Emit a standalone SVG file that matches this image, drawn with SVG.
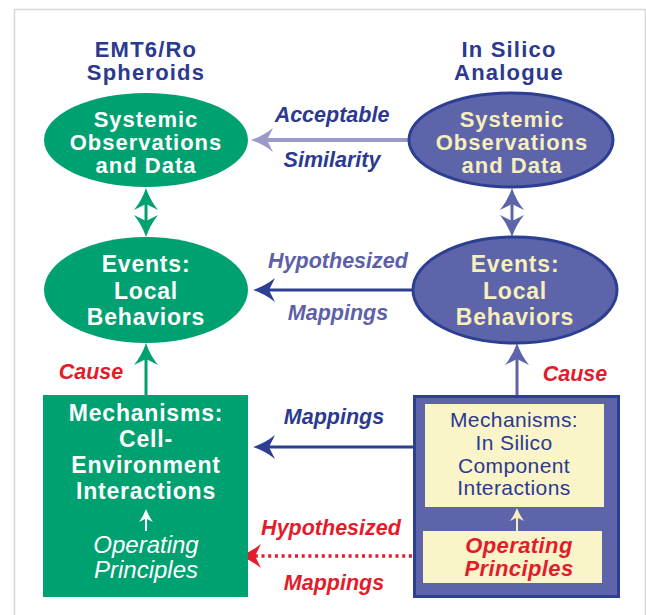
<svg xmlns="http://www.w3.org/2000/svg" width="646" height="615" viewBox="0 0 646 615">
<style>
text{font-family:"Liberation Sans",Arial,sans-serif;text-anchor:middle}
.b{font-weight:bold;font-size:22px;letter-spacing:1px}
.b2{font-weight:bold;font-size:23px;letter-spacing:0.8px}
.title{font-weight:bold;font-size:22px;fill:#2b3990;letter-spacing:1.2px}
.w{fill:#ffffff}
.c{fill:#f7efbc}
.lab{font-weight:bold;font-style:italic;font-size:21.5px}
.blue{fill:#2b3990}
.pur{fill:#5d60a8}
.red{fill:#e31b2b}
.green{fill:#00a170}
.pnode{fill:#5e64a9;stroke:#2c3f93;stroke-width:3}
.cream{fill:#faf4c9}
.inner{font-size:21px;letter-spacing:0.4px}
.op{font-weight:bold;font-style:italic;font-size:22px;letter-spacing:0.4px}
</style>
<defs>
<marker id="ahB" markerUnits="userSpaceOnUse" viewBox="0 -13 24 26" markerWidth="24" markerHeight="26" refX="12" refY="0" orient="auto-start-reverse">
<path d="M22,0 Q10,-4 0,-12 L6,0 L0,12 Q10,4 22,0 Z" fill="#2c3f93"/>
</marker>
<marker id="ahL" markerUnits="userSpaceOnUse" viewBox="0 -13 24 26" markerWidth="24" markerHeight="26" refX="12" refY="0" orient="auto-start-reverse">
<path d="M22,0 Q10,-4 0,-12 L6,0 L0,12 Q10,4 22,0 Z" fill="#9a9ac8"/>
</marker>
<marker id="ahG" markerUnits="userSpaceOnUse" viewBox="0 -13 24 26" markerWidth="24" markerHeight="26" refX="12" refY="0" orient="auto-start-reverse">
<path d="M22,0 Q10,-4 0,-12 L6,0 L0,12 Q10,4 22,0 Z" fill="#00a170"/>
</marker>
<marker id="ahP" markerUnits="userSpaceOnUse" viewBox="0 -13 24 26" markerWidth="24" markerHeight="26" refX="12" refY="0" orient="auto-start-reverse">
<path d="M22,0 Q10,-4 0,-12 L6,0 L0,12 Q10,4 22,0 Z" fill="#5e64a9"/>
</marker>
<marker id="ahR" markerUnits="userSpaceOnUse" viewBox="0 -13 24 26" markerWidth="24" markerHeight="26" refX="12" refY="0" orient="auto-start-reverse">
<path d="M22,0 Q10,-4 0,-12 L6,0 L0,12 Q10,4 22,0 Z" fill="#e31b2b"/>
</marker>
<marker id="ahW" markerUnits="userSpaceOnUse" viewBox="0 -8 14 16" markerWidth="14" markerHeight="16" refX="7" refY="0" orient="auto">
<path d="M13,0 Q6,-2.5 0,-7 L3.5,0 L0,7 Q6,2.5 13,0 Z" fill="#ffffff"/>
</marker>
<marker id="ahC" markerUnits="userSpaceOnUse" viewBox="0 -8 14 16" markerWidth="14" markerHeight="16" refX="7" refY="0" orient="auto">
<path d="M13,0 Q6,-2.5 0,-7 L3.5,0 L0,7 Q6,2.5 13,0 Z" fill="#f7efbc"/>
</marker>
</defs>
<rect x="0" y="0" width="646" height="615" fill="#ffffff"/>
<path d="M14.5,615 V9.5 H645.5 V615" fill="none" stroke="#d6d6d6" stroke-width="1.5"/>

<text class="title" x="146" y="57">EMT6/Ro</text>
<text class="title" x="146" y="80">Spheroids</text>
<text class="title" x="509" y="57">In Silico</text>
<text class="title" x="509" y="80">Analogue</text>

<g id="connectors">
<line x1="408" y1="140" x2="261" y2="140" stroke="#9a9ac8" stroke-width="4" marker-end="url(#ahL)"/>
<line x1="413" y1="290" x2="263" y2="290" stroke="#2c3f93" stroke-width="3" marker-end="url(#ahB)"/>
<line x1="413" y1="447" x2="263" y2="447" stroke="#2c3f93" stroke-width="3" marker-end="url(#ahB)"/>
<line x1="432" y1="556" x2="249" y2="556" stroke="#e31b2b" stroke-width="3.5" stroke-dasharray="3 3.7"/>
<line x1="252" y1="556" x2="249" y2="556" stroke="#e31b2b" stroke-width="3" marker-end="url(#ahR)"/>
<line x1="146" y1="198" x2="146" y2="227" stroke="#00a170" stroke-width="3" marker-start="url(#ahG)" marker-end="url(#ahG)"/>
<line x1="512" y1="198" x2="512" y2="227" stroke="#5e64a9" stroke-width="3" marker-start="url(#ahP)" marker-end="url(#ahP)"/>
<line x1="146" y1="395" x2="146" y2="353" stroke="#00a170" stroke-width="3" marker-end="url(#ahG)"/>
<line x1="517" y1="395" x2="517" y2="353" stroke="#5e64a9" stroke-width="3" marker-end="url(#ahP)"/>
</g>

<text class="lab blue" x="332" y="122">Acceptable</text>
<text class="lab blue" x="332" y="167">Similarity</text>
<text class="lab pur" x="338" y="268">Hypothesized</text>
<text class="lab pur" x="338" y="320">Mappings</text>
<text class="lab red" x="91" y="379">Cause</text>
<text class="lab red" x="575" y="381">Cause</text>
<text class="lab blue" x="334" y="424">Mappings</text>
<text class="lab red" x="331" y="535">Hypothesized</text>
<text class="lab red" x="334" y="590">Mappings</text>

<g id="n-sys-left">
<ellipse cx="146" cy="140" rx="102" ry="47" class="green"/>
<text class="b w" x="146" y="127">Systemic</text>
<text class="b w" x="146" y="150">Observations</text>
<text class="b w" x="146" y="173">and Data</text>
</g>
<g id="n-sys-right">
<ellipse cx="511" cy="140" rx="102" ry="47" class="pnode"/>
<text class="b c" x="512" y="127">Systemic</text>
<text class="b c" x="512" y="150">Observations</text>
<text class="b c" x="512" y="173">and Data</text>
</g>
<g id="n-events-left">
<ellipse cx="146" cy="290" rx="102" ry="53" class="green"/>
<text class="b2 w" x="146" y="272">Events:</text>
<text class="b2 w" x="146" y="299">Local</text>
<text class="b2 w" x="146" y="325">Behaviors</text>
</g>
<g id="n-events-right">
<ellipse cx="515" cy="290" rx="102" ry="53" class="pnode"/>
<text class="b2 c" x="515" y="272">Events:</text>
<text class="b2 c" x="515" y="299">Local</text>
<text class="b2 c" x="515" y="325">Behaviors</text>
</g>
<g id="n-mech-left">
<rect x="43" y="395" width="205" height="202" class="green"/>
<text class="b2 w" x="146" y="421">Mechanisms:</text>
<text class="b2 w" x="146" y="447">Cell-</text>
<text class="b2 w" x="146" y="473">Environment</text>
<text class="b2 w" x="146" y="499">Interactions</text>
<line x1="146" y1="531" x2="146" y2="515" stroke="#ffffff" stroke-width="2" marker-end="url(#ahW)"/>
<text class="w" x="146" y="553" style="font-style:italic;font-size:24px">Operating</text>
<text class="w" x="146" y="578" style="font-style:italic;font-size:24px">Principles</text>
</g>
<g id="n-mech-right">
<rect x="414.5" y="396.5" width="204" height="200" class="pnode"/>
<rect x="425" y="404" width="179" height="103" class="cream"/>
<text class="blue inner" x="514" y="427">Mechanisms:</text>
<text class="blue inner" x="514" y="450">In Silico</text>
<text class="blue inner" x="514" y="473">Component</text>
<text class="blue inner" x="514" y="495">Interactions</text>
<line x1="517" y1="531" x2="517" y2="514" stroke="#f7efbc" stroke-width="2" marker-end="url(#ahC)"/>
<rect x="423" y="531" width="179" height="52" class="cream"/>
<text class="red op" x="519" y="553">Operating</text>
<text class="red op" x="519" y="576">Principles</text>
</g>
</svg>
